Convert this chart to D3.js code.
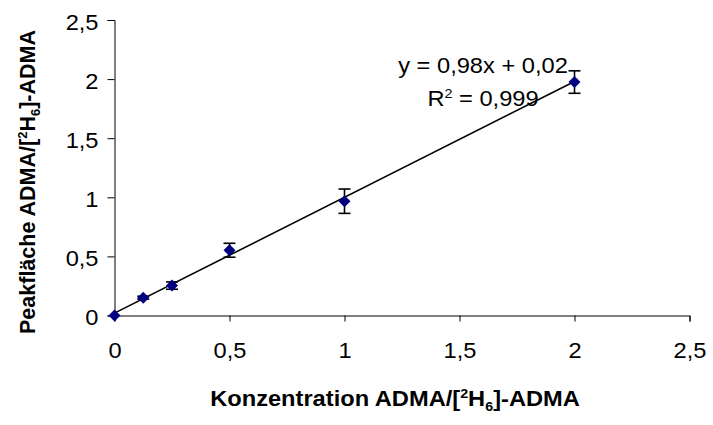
<!DOCTYPE html>
<html><head><meta charset="utf-8">
<script src="https://cdn.jsdelivr.net/npm/d3@7"></script>
<style>
html,body{margin:0;padding:0;background:#fff;}
svg{display:block;font-family:Arial,"Liberation Sans",sans-serif;}
</style></head>
<body><svg id="c" width="713" height="425"></svg>
<script>
const concentrations = [0, 0.125, 0.25, 0.5, 1, 2];
const peakRatios = [0, 0.151, 0.253, 0.552, 0.967, 1.975];
const errors = [0, 0.012, 0.031, 0.059, 0.103, 0.095];
const xTicks = [0, 0.5, 1, 1.5, 2, 2.5];
const yTicks = [0, 0.5, 1, 1.5, 2, 2.5];
const slope = 0.98, intercept = 0.02;
const trendRange = [0, 2];

const SX = 1.1; // horizontal stretch of text seen in the reference
const svg = d3.select("#c");
const x = d3.scaleLinear().domain([0, 2.5]).range([114.5, 689.5]);
const y = d3.scaleLinear().domain([0, 2.5]).range([315.5, 20]);
const fmt = d => String(d).replace(".", ",");

// axes
const gx = svg.append("g").attr("transform", `translate(0,${y(0)})`)
  .call(d3.axisBottom(x).tickValues(xTicks).tickSize(6).tickPadding(0).tickFormat(fmt));
const gy = svg.append("g").attr("transform", `translate(${x(0)},0)`)
  .call(d3.axisLeft(y).tickValues(yTicks).tickSize(7).tickPadding(0).tickFormat(fmt));
[gx, gy].forEach(g => {
  g.select(".domain").attr("stroke", "#000").attr("stroke-width", 1);
  g.selectAll(".tick line").attr("stroke", "#000").attr("stroke-width", 1);
  g.selectAll(".tick text").attr("fill", "#000").attr("font-size", 21.5)
    .attr("font-family", "Arial, 'Liberation Sans', sans-serif")
    .attr("transform", `scale(${SX},1)`);
});
gx.selectAll(".tick text").attr("y", 42.5).attr("dy", 0);
gy.selectAll(".tick text").attr("x", -16 / SX).attr("dy", "0.42em");

// trend line
svg.append("line")
  .attr("x1", x(trendRange[0])).attr("y1", y(slope * trendRange[0] + intercept))
  .attr("x2", x(trendRange[1])).attr("y2", y(slope * trendRange[1] + intercept))
  .attr("stroke", "#000").attr("stroke-width", 1.6);

// error bars
const eb = svg.append("g").attr("stroke", "#000").attr("stroke-width", 1.6);
concentrations.forEach((c, i) => {
  if (errors[i] <= 0) return;
  const cx = x(c), t = y(peakRatios[i] + errors[i]), b = y(peakRatios[i] - errors[i]);
  eb.append("line").attr("x1", cx).attr("x2", cx).attr("y1", t).attr("y2", b);
  eb.append("line").attr("x1", cx - 6).attr("x2", cx + 6).attr("y1", t).attr("y2", t);
  eb.append("line").attr("x1", cx - 6).attr("x2", cx + 6).attr("y1", b).attr("y2", b);
});

// markers
const s = 6;
svg.append("g").selectAll("path").data(concentrations).join("path")
  .attr("d", (c, i) => {
    const cx = x(c), cy = y(peakRatios[i]);
    return `M${cx},${cy - s}L${cx + s},${cy}L${cx},${cy + s}L${cx - s},${cy}Z`;
  })
  .attr("fill", "#000080");

// equation
const eq = svg.append("g").attr("font-size", 21.5).attr("text-anchor", "middle").attr("fill", "#000")
  .attr("transform", `translate(483,0) scale(${SX},1)`);
eq.append("text").attr("x", 0).attr("y", 73).text("y = 0,98x + 0,02");
const r2 = eq.append("text").attr("x", 0).attr("y", 106);
r2.append("tspan").text("R");
r2.append("tspan").attr("font-size", 13).attr("dy", -8).text("2");
r2.append("tspan").attr("dy", 8).text(" = 0,999");

// axis titles
const xt = svg.append("text").attr("transform", `translate(395,406) scale(${SX},1)`).attr("text-anchor", "middle")
  .attr("font-size", 21.5).attr("font-weight", "bold").attr("fill", "#000");
xt.append("tspan").text("Konzentration ADMA/[");
xt.append("tspan").attr("font-size", 13).attr("dy", -8).text("2");
xt.append("tspan").attr("dy", 8).text("H");
xt.append("tspan").attr("font-size", 13).attr("dy", 5).text("6");
xt.append("tspan").attr("dy", -5).text("]-ADMA");

const yt = svg.append("text").attr("transform", "translate(35,182) rotate(-90)").attr("text-anchor", "middle")
  .attr("font-size", 21.5).attr("font-weight", "bold").attr("fill", "#000");
yt.append("tspan").text("Peakfläche ADMA/[");
yt.append("tspan").attr("font-size", 13).attr("dy", -8).text("2");
yt.append("tspan").attr("dy", 8).text("H");
yt.append("tspan").attr("font-size", 13).attr("dy", 5).text("6");
yt.append("tspan").attr("dy", -5).text("]-ADMA");
</script></body></html>
